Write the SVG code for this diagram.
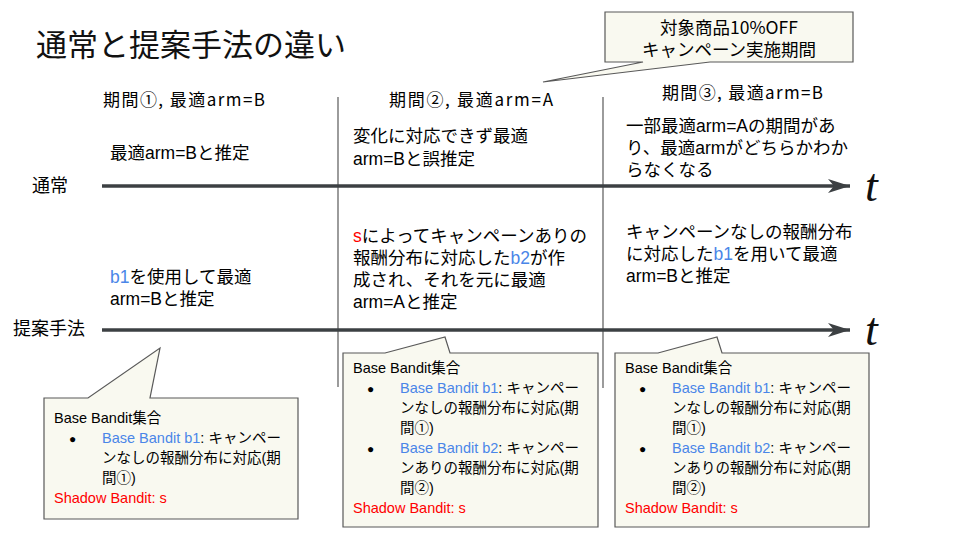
<svg xmlns="http://www.w3.org/2000/svg" width="960" height="540" viewBox="0 0 960 540">
<defs>
<style>
text{font-family:"Liberation Sans","Noto Sans CJK JP",sans-serif;fill:#000}
.title{font-family:"Noto Sans CJK JP",sans-serif;font-size:31px;fill:#111}
.per{font-family:"Noto Sans CJK JP",sans-serif;font-size:17px}
.row{font-family:"Noto Sans CJK JP",sans-serif;font-size:18px}
.cal{font-family:"Noto Sans CJK JP",sans-serif;font-size:17.5px}
.main{font-size:17.5px}
.box{font-size:14.5px}
.bul{font-size:12px}
.blue{fill:#4a86e8}
.red{fill:#ff0000}
.t{font-family:"Liberation Serif","DejaVu Serif",serif;font-style:italic;font-size:46px;fill:#111}
.call{fill:#f9f9f0;stroke:#595959;stroke-width:1.2}
.div{stroke:#595959;stroke-width:1.2}
.axis{stroke:#3c4043;stroke-width:3.5;fill:none}
</style>
<marker id="arr" markerUnits="userSpaceOnUse" viewBox="0 0 22 14" refX="22" refY="7" markerWidth="22" markerHeight="14" orient="auto">
<path d="M0,0 L22,7 L0,14 L6,7 Z" fill="#3c4043"/>
</marker>
</defs>

<text class="title" x="36" y="56">通常と提案手法の違い</text>

<g id="connectors">
<line class="div" x1="338" y1="97" x2="338" y2="387"/>
<line class="div" x1="603" y1="97" x2="603" y2="388"/>
<line class="axis" x1="102" y1="186" x2="850" y2="186" marker-end="url(#arr)"/>
<line class="axis" x1="102" y1="330" x2="850" y2="330" marker-end="url(#arr)"/>
</g>

<g id="t-labels">
<text class="t" x="865" y="201">t</text>
<text class="t" x="865" y="345">t</text>
</g>

<g id="row-normal"><text class="row" x="32" y="192">通常</text></g>
<g id="row-proposed"><text class="row" x="13" y="335">提案手法</text></g>

<g id="period1"><text class="per" x="103" y="106" textLength="162" lengthAdjust="spacing">期間①, 最適arm=B</text></g>
<g id="period2"><text class="per" x="389" y="106" textLength="164" lengthAdjust="spacing">期間②, 最適arm=A</text></g>
<g id="period3"><text class="per" x="662" y="99" textLength="161" lengthAdjust="spacing">期間③, 最適arm=B</text></g>

<g id="campaign-callout">
<path class="call" d="M605,12 H853 V62 H710 L543,82 L643,62 H605 Z"/>
<text class="cal" x="729" y="34" text-anchor="middle">対象商品10%OFF</text>
<text class="cal" x="729" y="56" text-anchor="middle">キャンペーン実施期間</text>
</g>

<g id="normal-p1"><text class="main" x="110" y="159">最適arm=Bと推定</text></g>
<g id="normal-p2">
<text class="main" x="353" y="142">変化に対応できず最適</text>
<text class="main" x="353" y="165">arm=Bと誤推定</text>
</g>
<g id="normal-p3">
<text class="main" x="626" y="132">一部最適arm=Aの期間があ</text>
<text class="main" x="626" y="154">り、最適armがどちらかわか</text>
<text class="main" x="626" y="176">らなくなる</text>
</g>

<g id="proposed-p1">
<text class="main" x="110" y="283"><tspan class="blue">b1</tspan>を使用して最適</text>
<text class="main" x="110" y="305">arm=Bと推定</text>
</g>
<g id="proposed-p2">
<text class="main" x="353" y="242"><tspan class="red">s</tspan>によってキャンペーンありの</text>
<text class="main" x="353" y="264">報酬分布に対応した<tspan class="blue">b2</tspan>が作</text>
<text class="main" x="353" y="286">成され、それを元に最適</text>
<text class="main" x="353" y="308">arm=Aと推定</text>
</g>
<g id="proposed-p3">
<text class="main" x="626" y="238">キャンペーンなしの報酬分布</text>
<text class="main" x="626" y="260">に対応した<tspan class="blue">b1</tspan>を用いて最適</text>
<text class="main" x="626" y="282">arm=Bと推定</text>
</g>

<g id="bandit-box-1">
<path class="call" d="M44,398 H88 L160,348 L150,398 H298 V519 H44 Z"/>
<text class="box" x="54" y="423">Base Bandit集合</text>
<text class="bul" x="69" y="443">●</text>
<text class="box" x="102" y="443"><tspan class="blue">Base Bandit b1</tspan>: キャンペー</text>
<text class="box" x="102" y="463">ンなしの報酬分布に対応(期</text>
<text class="box" x="102" y="483">間①)</text>
<text class="box red" x="54" y="503">Shadow Bandit: s</text>
</g>

<g id="bandit-box-2">
<path class="call" d="M343,353 H385 L445,337 L450,353 H598 V527 H343 Z"/>
<text class="box" x="353" y="373">Base Bandit集合</text>
<text class="bul" x="367" y="393">●</text>
<text class="box" x="400" y="393"><tspan class="blue">Base Bandit b1</tspan>: キャンペー</text>
<text class="box" x="400" y="413">ンなしの報酬分布に対応(期</text>
<text class="box" x="400" y="433">間①)</text>
<text class="bul" x="367" y="453">●</text>
<text class="box" x="400" y="453"><tspan class="blue">Base Bandit b2</tspan>: キャンペー</text>
<text class="box" x="400" y="473">ンありの報酬分布に対応(期</text>
<text class="box" x="400" y="493">間②)</text>
<text class="box red" x="353" y="513">Shadow Bandit: s</text>
</g>

<g id="bandit-box-3">
<path class="call" d="M615,353 H658 L717,337 L722,353 H869 V527 H615 Z"/>
<text class="box" x="625" y="373">Base Bandit集合</text>
<text class="bul" x="639" y="393">●</text>
<text class="box" x="672" y="393"><tspan class="blue">Base Bandit b1</tspan>: キャンペー</text>
<text class="box" x="672" y="413">ンなしの報酬分布に対応(期</text>
<text class="box" x="672" y="433">間①)</text>
<text class="bul" x="639" y="453">●</text>
<text class="box" x="672" y="453"><tspan class="blue">Base Bandit b2</tspan>: キャンペー</text>
<text class="box" x="672" y="473">ンありの報酬分布に対応(期</text>
<text class="box" x="672" y="493">間②)</text>
<text class="box red" x="625" y="513">Shadow Bandit: s</text>
</g>
</svg>
